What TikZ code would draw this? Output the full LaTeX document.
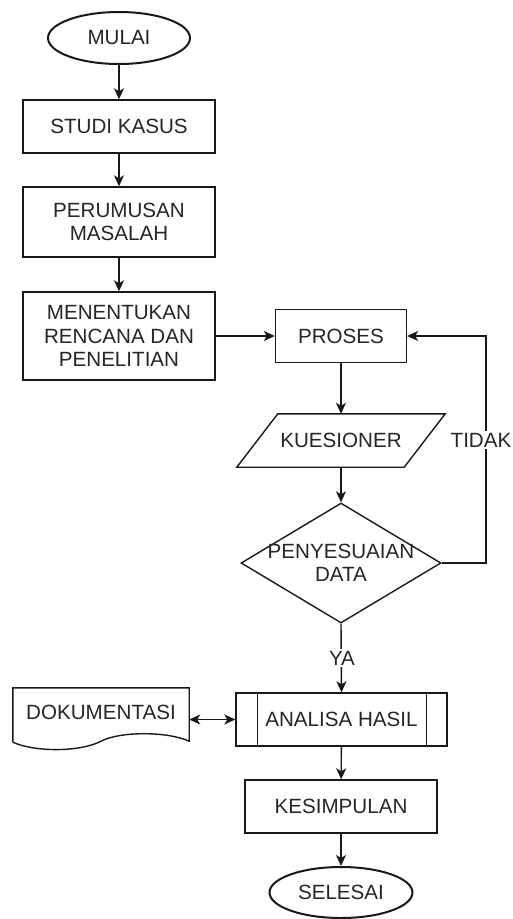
\documentclass[tikz,border=0pt]{standalone}
\usepackage{fontspec}
\setmainfont{Liberation Sans}
\usetikzlibrary{shapes.geometric,arrows.meta,calc}
\begin{document}
\begin{tikzpicture}[x=1pt,y=-1pt,
  every node/.style={font=\fontsize{20.6}{23.5}\selectfont, text=black!85, align=center},
  lin/.style={line width=1.4pt, draw=black!90},
  box/.style={lin, draw, rectangle, inner sep=0pt},
  term/.style={draw=black!90, line width=2pt, ellipse, inner sep=0pt},
  arr/.style={lin, -{Stealth[length=11pt,width=10pt,inset=3pt]}},
  arrboth/.style={lin, {Stealth[length=11pt,width=10pt,inset=3pt]}-{Stealth[length=11pt,width=10pt,inset=3pt]}},
  lbl/.style={fill=white, inner sep=2pt}
]
\useasboundingbox[fill=white] (0,0) rectangle (512,919);

% left column
\node[term, minimum width=142pt, minimum height=52pt] (mulai) at (119,38) {MULAI};
\node[box, minimum width=192pt, minimum height=53pt] (studi) at (119,126.5) {STUDI KASUS};
\node[box, minimum width=192pt, minimum height=70pt] (perum) at (119,222) {PERUMUSAN\\MASALAH};
\node[box, minimum width=192pt, minimum height=88pt] (menent) at (119,336) {MENENTUKAN\\RENCANA DAN\\PENELITIAN};

% right column
\node[box, minimum width=131pt, minimum height=53pt] (proses) at (341,336) {PROSES};

\node[minimum width=167pt, minimum height=53pt, inner sep=0pt] (kue) at (341,440.5) {KUESIONER};
\draw[lin] ($(kue.north west)+(20.5,0)$) -- ($(kue.north east)+(20.5,0)$)
  -- ($(kue.south east)+(-20.5,0)$) -- ($(kue.south west)+(-20.5,0)$) -- cycle;

\node[draw=black!90, line width=1.4pt, diamond, minimum width=200pt, minimum height=120pt, inner sep=0pt] (dec) at (341,563) {};
\node (dectext) at (dec) {PENYESUAIAN\\DATA};

\node[box, minimum width=211pt, minimum height=53pt] (ana) at (341.5,719.5) {ANALISA HASIL};
\draw[lin] ([xshift=22pt]ana.north west) -- ([xshift=22pt]ana.south west);
\draw[lin] ([xshift=-21pt]ana.north east) -- ([xshift=-21pt]ana.south east);

\node[minimum width=176pt, minimum height=48pt, inner sep=0pt] (dok) at (101,712) {DOKUMENTASI};
\draw[lin] ($(dok.south west)+(0,6)$) -- (dok.north west) -- (dok.north east)
  -- ($(dok.south east)+(0,5)$)
  .. controls ($(dok.south east)+(-22,-5)$) and ($(dok.south)+(19,-5)$) .. ($(dok.south)+(0,5)$)
  .. controls ($(dok.south)+(-21,16)$) and ($(dok.south west)+(22,16)$) .. ($(dok.south west)+(0,6)$);

\node[box, minimum width=192pt, minimum height=53pt] (kes) at (341,806.5) {KESIMPULAN};
\node[term, minimum width=143pt, minimum height=51pt] (sel) at (341,892.5) {SELESAI};

% connectors
\draw[arr] (mulai) -- (studi);
\draw[arr] (studi) -- (perum);
\draw[arr] (perum) -- (menent);
\draw[arr] (menent) -- (proses);
\draw[arr] (proses) -- (kue);
\draw[arr] (kue.south) -- (dec.north);
\coordinate (loopc) at (486,336);
\draw[arr] (dec.east) -| (loopc) -- (proses.east);
\node[lbl, inner xsep=1pt] (tidak) at (481,440) {TIDAK};
\draw[arr] (dec.south) -- (ana.north);
\node[lbl] (ya) at (342,658) {YA};
\draw[arrboth] (dok.east |- ana.west) -- (ana.west);
\draw[arr] (ana) -- (kes);
\draw[arr] (kes) -- (sel);
\end{tikzpicture}
\end{document}
